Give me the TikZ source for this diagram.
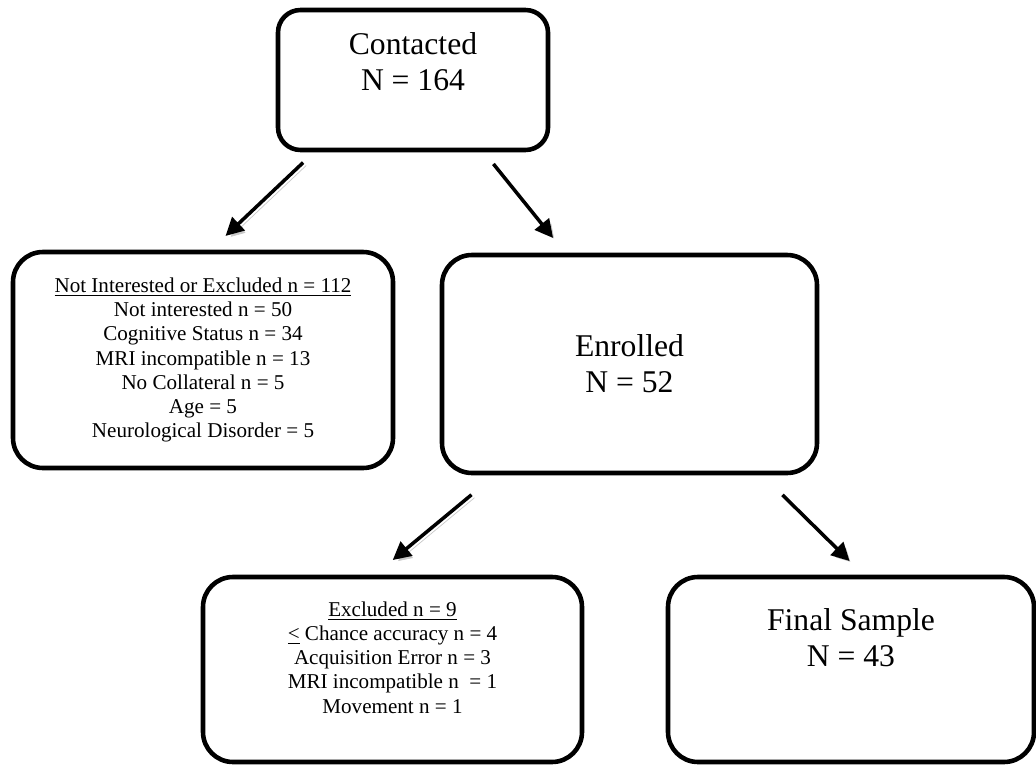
\documentclass[tikz,border=0pt]{standalone}
\usepackage{fontspec}
\setmainfont{Liberation Serif}
\usetikzlibrary{positioning,arrows.meta}
\definecolor{shade300}{HTML}{C8C8C8}
\newcommand{\hd}[1]{\underline{#1}}
\tikzset{
  bigbox/.style ={draw=black, line width=2.6pt, rounded corners=0.6cm,
                  align=center, inner sep=4pt,
                  font=\fontsize{18}{20.5}\selectfont},
  listbox/.style={draw=black, line width=2.6pt, rounded corners=0.6cm,
                  align=center, inner sep=4pt,
                  font=\fontsize{12}{13.8}\selectfont},
  flow/.style   ={-{Triangle[length=3.6mm,width=3.6mm]}, line width=2pt,
                  preaction={draw=shade300,
                    transform canvas={shift={(0.06cm,-0.06cm)}}}}
}

\begin{document}
\begin{tikzpicture}
\useasboundingbox (0,0) rectangle (20.72,-15.3);

\node[bigbox, minimum width=5.4cm, minimum height=2.8cm,
      rounded corners=0.45cm] (cont) at (8.26,-1.6)
  {Contacted\\N = 164\\~};
\node[listbox, minimum width=7.6cm, minimum height=4.32cm] (notint)
  at (4.06,-7.2)
  {\hd{Not Interested or Excluded n = 112}\\
   Not interested n = 50\\ Cognitive Status n = 34\\
   MRI incompatible n = 13\\ No Collateral n = 5\\ Age = 5\\
   Neurological Disorder = 5};
\node[bigbox, minimum width=7.5cm, minimum height=4.36cm] (enrol)
  at (12.59,-7.28) {Enrolled\\N = 52};
\node[listbox, minimum width=7.58cm, minimum height=3.7cm] (excl)
  at (7.85,-13.39)
  {\hd{Excluded n = 9}\\ \hd{<} Chance accuracy n = 4\\
   Acquisition Error n = 3\\ MRI incompatible n\ \ = 1\\
   Movement n = 1\\ ~};
\node[bigbox, minimum width=7.32cm, minimum height=3.7cm] (final)
  at (17.02,-13.39) {Final Sample\\N = 43\\[0.54cm]~};

\draw[flow, shorten <=0.3cm, shorten >=0.4cm]
  ([xshift=-1.98cm]cont.south) -- ([xshift=0.16cm]notint.north);
\draw[flow, shorten <=0.3cm, shorten >=0.38cm]
  ([xshift=1.42cm]cont.south) -- ([xshift=-1.29cm]enrol.north);
\draw[flow, shorten <=0.61cm, shorten >=0.46cm]
  ([xshift=-2.69cm]enrol.south) -- ([xshift=-0.35cm]excl.north);
\draw[flow, shorten <=0.56cm, shorten >=0.39cm]
  ([xshift=2.66cm]enrol.south) -- ([xshift=0.25cm]final.north);
\end{tikzpicture}
\end{document}
